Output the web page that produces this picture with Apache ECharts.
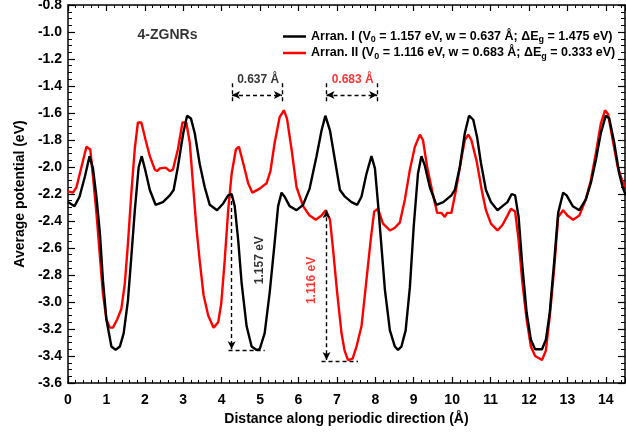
<!DOCTYPE html>
<html>
<head>
<meta charset="utf-8">
<script src="https://cdn.jsdelivr.net/npm/echarts@6/dist/echarts.min.js"></script>
<style>
  html, body { margin: 0; padding: 0; background: #fff; }
  #main { width: 626px; height: 436px; }
</style>
</head>
<body>
<div id="main"></div>
<script>
// Arran. I (black)
var xI = [0.0,0.17,0.30,0.44,0.56,0.65,0.74,0.83,0.91,1.00,1.13,1.24,1.35,1.45,1.56,1.65,1.74,1.84,1.92,2.00,
  2.13,2.28,2.47,2.65,2.75,2.86,3.00,3.10,3.20,3.30,3.43,3.56,3.69,3.88,4.04,4.17,4.26,4.34,4.43,4.52,
  4.65,4.78,4.91,4.99,5.12,5.25,5.38,5.47,5.56,5.64,5.77,5.95,6.12,6.29,6.47,6.60,6.70,6.82,6.95,7.08,
  7.21,7.38,7.53,7.64,7.77,7.90,7.99,8.07,8.16,8.25,8.38,8.51,8.59,8.68,8.79,8.90,9.00,9.11,9.20,9.29,
  9.42,9.59,9.77,9.98,10.07,10.20,10.33,10.44,10.55,10.65,10.75,10.88,11.01,11.18,11.31,11.44,11.55,11.64,11.73,11.83,
  11.94,12.05,12.16,12.34,12.44,12.54,12.66,12.76,12.89,12.98,13.14,13.31,13.48,13.61,13.74,13.87,14.00,14.09,14.22,14.35,
  14.44,14.52];
var potI = [-2.26,-2.29,-2.22,-2.07,-1.92,-2.01,-2.22,-2.49,-2.84,-3.13,-3.33,-3.355,-3.33,-3.23,-2.99,-2.66,-2.32,-2.00,-1.92,-2.01,
  -2.17,-2.28,-2.26,-2.21,-2.17,-2.00,-1.75,-1.62,-1.64,-1.75,-1.98,-2.15,-2.28,-2.32,-2.27,-2.21,-2.20,-2.29,-2.54,-2.86,
  -3.18,-3.33,-3.355,-3.35,-3.23,-2.93,-2.56,-2.29,-2.19,-2.22,-2.29,-2.32,-2.28,-2.16,-1.92,-1.73,-1.62,-1.73,-1.95,-2.17,
  -2.22,-2.26,-2.28,-2.22,-2.05,-1.92,-2.01,-2.27,-2.59,-2.91,-3.21,-3.33,-3.355,-3.33,-3.21,-2.89,-2.44,-2.05,-1.92,-1.99,
  -2.15,-2.28,-2.26,-2.21,-2.17,-2.00,-1.75,-1.62,-1.65,-1.78,-1.97,-2.17,-2.26,-2.32,-2.29,-2.26,-2.20,-2.21,-2.37,-2.74,
  -3.08,-3.28,-3.35,-3.35,-3.28,-3.08,-2.69,-2.34,-2.19,-2.21,-2.29,-2.32,-2.24,-2.12,-1.95,-1.75,-1.62,-1.64,-1.82,-2.05,
  -2.15,-2.21];

// Arran. II (red)
var xII = [0.00,0.13,0.22,0.35,0.48,0.58,0.65,0.74,0.83,0.91,1.00,1.09,1.17,1.28,1.39,1.48,1.56,1.65,1.74,1.82,
  1.91,2.02,2.13,2.26,2.32,2.39,2.54,2.65,2.73,2.86,2.98,3.08,3.17,3.26,3.34,3.43,3.53,3.65,3.79,3.91,
  3.99,4.08,4.17,4.26,4.37,4.45,4.56,4.69,4.80,4.99,5.17,5.27,5.38,5.51,5.62,5.70,5.82,5.95,6.12,6.29,
  6.45,6.60,6.71,6.82,6.90,7.01,7.12,7.20,7.29,7.41,7.51,7.64,7.75,7.88,7.97,8.07,8.20,8.38,8.51,8.64,
  8.77,8.90,9.03,9.16,9.24,9.35,9.49,9.61,9.72,9.81,9.87,9.98,10.10,10.22,10.33,10.42,10.50,10.64,10.77,10.88,
  11.01,11.18,11.31,11.44,11.53,11.64,11.73,11.83,11.94,12.05,12.16,12.34,12.44,12.54,12.66,12.76,12.89,13.00,13.15,13.31,
  13.48,13.61,13.74,13.87,13.98,14.06,14.18,14.31,14.44,14.52];
var potII = [-2.18,-2.19,-2.15,-2.00,-1.85,-1.87,-2.07,-2.34,-2.66,-2.94,-3.13,-3.19,-3.19,-3.13,-3.05,-2.86,-2.57,-2.19,-1.86,-1.67,
  -1.67,-1.80,-1.92,-2.02,-2.03,-2.01,-2.005,-2.03,-2.02,-1.87,-1.67,-1.67,-1.82,-2.15,-2.44,-2.70,-2.95,-3.10,-3.19,-3.15,
  -3.01,-2.69,-2.32,-2.05,-1.87,-1.85,-1.97,-2.12,-2.19,-2.16,-2.12,-2.03,-1.82,-1.63,-1.58,-1.64,-1.87,-2.15,-2.29,-2.36,
  -2.39,-2.36,-2.32,-2.39,-2.61,-2.94,-3.23,-3.36,-3.43,-3.42,-3.33,-3.18,-2.89,-2.54,-2.33,-2.31,-2.42,-2.47,-2.45,-2.41,
  -2.24,-2.02,-1.85,-1.76,-1.80,-2.00,-2.19,-2.34,-2.34,-2.37,-2.34,-2.34,-2.17,-1.97,-1.80,-1.76,-1.80,-1.96,-2.17,-2.32,
  -2.42,-2.47,-2.43,-2.36,-2.31,-2.33,-2.54,-2.86,-3.13,-3.33,-3.40,-3.43,-3.36,-3.11,-2.74,-2.37,-2.32,-2.36,-2.39,-2.36,
  -2.24,-2.10,-1.90,-1.68,-1.58,-1.61,-1.80,-2.00,-2.11,-2.15];

var seriesNames = ['Arran. I', 'Arran. II'];
var legendText = [
  'Arran. I (V{s|0} = 1.157 eV, w = 0.637 Å; ΔE{s|g} = 1.475 eV)',
  'Arran. II (V{s|0} = 1.116 eV, w = 0.683 Å; ΔE{s|g} = 0.333 eV)'
];
var xTicks = {min: 0, max: 14.5, step: 1};
var yTicks = {min: -3.6, max: -0.8, step: 0.2};

// annotation segments: [x1, y1, x2, y2, startSymbol, endSymbol]
var arrows = [
  [4.26, -2.20, 4.26, -3.35, 'none', 'arrow'],
  [4.18, -3.36, 5.12, -3.36, 'none', 'none'],
  [6.73, -2.32, 6.73, -3.43, 'arrow', 'arrow'],
  [6.60, -3.437, 7.55, -3.437, 'none', 'none'],
  [4.27, -1.467, 5.57, -1.467, 'arrow', 'arrow'],
  [4.27, -1.38, 4.27, -1.53, 'none', 'none'],
  [5.57, -1.38, 5.57, -1.53, 'none', 'none'],
  [6.73, -1.467, 8.05, -1.467, 'arrow', 'arrow'],
  [6.73, -1.38, 6.73, -1.53, 'none', 'none'],
  [8.05, -1.38, 8.05, -1.53, 'none', 'none']
];
// notes: [x, y, text, rotate, colour]
var notes = [
  [4.95, -1.356, '0.637 Å', 0, '#000'],
  [7.41, -1.356, '0.683 Å', 0, '#ff0000'],
  [4.99, -2.69, '1.157 eV', 90, '#000'],
  [6.34, -2.84, '1.116 eV', 90, '#ff0000'],
  [2.59, -1.02, '4-ZGNRs', 0, '#000']
];

var FONT = '"Liberation Sans", Arial, sans-serif';
var chart = echarts.init(document.getElementById('main'));

function pairs(xs, ys) {
  var out = [];
  for (var i = 0; i < xs.length; i++) out.push([xs[i], ys[i]]);
  return out;
}

function axisX(pos, labels) {
  return {
    type: 'value', position: pos, min: xTicks.min, max: xTicks.max, interval: xTicks.step,
    name: labels ? 'Distance along periodic direction (Å)' : '',
    nameLocation: 'middle', nameGap: 26,
    nameTextStyle: {fontFamily: FONT, fontWeight: 'bold', fontSize: 14, color: '#000'},
    axisLine: {show: true, onZero: false, lineStyle: {color: '#000', width: 1.5}},
    axisTick: {show: true, inside: true, length: 6, lineStyle: {color: '#000', width: 1.2}},
    minorTick: {show: true, splitNumber: 5, length: 3, lineStyle: {color: '#000', width: 1}},
    splitLine: {show: false},
    axisLabel: {
      show: labels, margin: 10, fontFamily: FONT, fontWeight: 'bold', fontSize: 14, color: '#000',
      showMaxLabel: false,
      formatter: function (v) { return Math.abs(v - Math.round(v)) < 1e-6 ? String(Math.round(v)) : ''; }
    }
  };
}

function axisY(pos, labels) {
  return {
    type: 'value', position: pos, min: yTicks.min, max: yTicks.max, interval: yTicks.step,
    name: labels ? 'Average potential (eV)' : '',
    nameLocation: 'middle', nameGap: 41,
    nameTextStyle: {fontFamily: FONT, fontWeight: 'bold', fontSize: 14, color: '#000'},
    axisLine: {show: true, onZero: false, lineStyle: {color: '#000', width: 1.5}},
    axisTick: {show: true, inside: true, length: 7, lineStyle: {color: '#000', width: 1.2}},
    minorTick: {show: true, splitNumber: 4, length: 4, lineStyle: {color: '#000', width: 1}},
    splitLine: {show: false},
    axisLabel: {
      show: labels, margin: 6, fontFamily: FONT, fontWeight: 'bold', fontSize: 14, color: '#000',
      formatter: function (v) { return v.toFixed(1); }
    }
  };
}

var markData = arrows.map(function (a) {
  return [
    {coord: [a[0], a[1]], symbol: a[4]},
    {coord: [a[2], a[3]], symbol: a[5]}
  ];
});

var noteData = notes.map(function (n) {
  return {
    value: [n[0], n[1]],
    label: {
      show: true, position: 'inside', formatter: n[2], rotate: n[3], color: n[4],
      fontFamily: FONT, fontWeight: 'bold', fontSize: n[2] == '4-ZGNRs' ? 14 : 12
    }
  };
});

chart.setOption({
  animation: false,
  backgroundColor: '#fff',
  grid: {left: 68, right: 1, top: 5, bottom: 53, outerBoundsMode: 'none'},
  xAxis: [axisX('bottom', true), axisX('top', false)],
  yAxis: [axisY('left', true), axisY('right', false)],
  legend: {
    data: seriesNames,
    orient: 'vertical', left: 278, top: 25,
    icon: 'rect', itemWidth: 23, itemHeight: 2.5, itemGap: 2,
    formatter: function (name) { return legendText[seriesNames.indexOf(name)]; },
    textStyle: {
      fontFamily: FONT, fontWeight: 'bold', fontSize: 12.5, color: '#000',
      rich: {
        s: {fontFamily: FONT, fontWeight: 'bold', fontSize: 9, color: '#000', padding: [7, 0, 0, 0]}
      }
    }
  },
  series: [
    {
      name: seriesNames[0], type: 'line', data: pairs(xI, potI), symbol: 'none',
      lineStyle: {color: '#000', width: 2.4}, itemStyle: {color: '#000'}, z: 3
    },
    {
      name: seriesNames[1], type: 'line', data: pairs(xII, potII), symbol: 'none',
      lineStyle: {color: '#ff0000', width: 2.4}, itemStyle: {color: '#ff0000'}, z: 2
    },
    {
      name: 'marks', type: 'line', data: [], symbol: 'none', silent: true,
      markLine: {
        silent: true, animation: false, symbolSize: [6, 8],
        label: {show: false},
        lineStyle: {color: '#000', width: 1.4, type: [4, 3]},
        emphasis: {disabled: true},
        data: markData
      }
    },
    {
      name: 'notes', type: 'scatter', data: noteData, symbolSize: 0, silent: true, z: 5
    }
  ]
});
</script>
</body>
</html>
